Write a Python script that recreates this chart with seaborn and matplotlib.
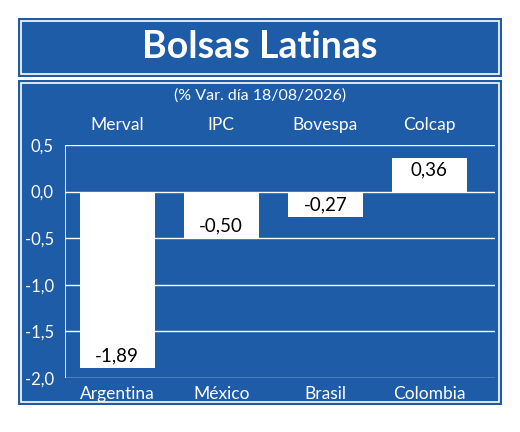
import matplotlib
matplotlib.use("Agg")
import matplotlib.pyplot as plt
import seaborn as sns
import pandas as pd
from matplotlib.patches import Rectangle

indices = ["Merval", "IPC", "Bovespa", "Colcap"]
countries = ["Argentina", "México", "Brasil", "Colombia"]
values = [-1.89, -0.50, -0.27, 0.36]
labels = ["-1,89", "-0,50", "-0,27", "0,36"]
yticks = [0.5, 0.0, -0.5, -1.0, -1.5, -2.0]
ytick_labels = ["0,5", "0,0", "-0,5", "-1,0", "-1,5", "-2,0"]

BLUE = "#1f5ca8"
plt.rcParams['font.family'] = ['Lato', 'DejaVu Sans']
fig = plt.figure(figsize=(5.2, 4.32), dpi=100, facecolor="white")
W, H = 520, 432
def R(x0, y0, x1, y1, **kw):
    fig.patches.append(Rectangle((x0/W, 1-y1/H), (x1-x0)/W, (y1-y0)/H, transform=fig.transFigure, zorder=-5, **kw))
R(18, 18, 502, 77, facecolor=BLUE, edgecolor="none")
R(21, 21, 499, 74, facecolor="none", edgecolor="white", lw=1.2)
R(18, 80, 502, 405, facecolor=BLUE, edgecolor="none")
R(21, 83, 499, 402, facecolor="none", edgecolor="white", lw=1.2)
fig.text(0.5, 1-47/H, "Bolsas Latinas", ha="center", va="center", color="white", fontsize=27, fontweight="bold")
fig.text(0.5, 1-96/H, "(% Var. día 18/08/2026)", ha="center", va="center", color="white", fontsize=11.5)

ax = fig.add_axes([65/W, 1-378/H, 430/W, 233/H])
ax.set_facecolor("none")
df = pd.DataFrame({"c": countries, "v": values})
sns.barplot(data=df, x="c", y="v", color="white", width=0.72, ax=ax, saturation=1)
ax.set_ylim(-2.0, 0.5)
ax.set_xlim(-0.5, 3.63)
ax.set_yticks(yticks)
ax.set_yticklabels(ytick_labels, color="white", fontsize=12)
ax.tick_params(axis="y", length=0, pad=8)
ax.tick_params(axis="x", length=0, pad=6)
ax.set_xticklabels(countries, color="white", fontsize=12.5)
ax.set_xlabel(""); ax.set_ylabel("")
ax.grid(axis="y", color="white", lw=1)
ax.set_axisbelow(True)
for s in ax.spines.values():
    s.set_visible(False)
ax.axvline(-0.5, color="white", lw=1.2)
for i, (v, l) in enumerate(zip(values, labels)):
    y = v + 0.13 if v < 0 else v - 0.13
    ax.text(i, y, l, ha="center", va="center", color="black", fontsize=13.5)
    ax.text(i, 0.71, indices[i], ha="center", va="center", color="white", fontsize=12.5)
fig.savefig("out.png", dpi=100, facecolor="white")
